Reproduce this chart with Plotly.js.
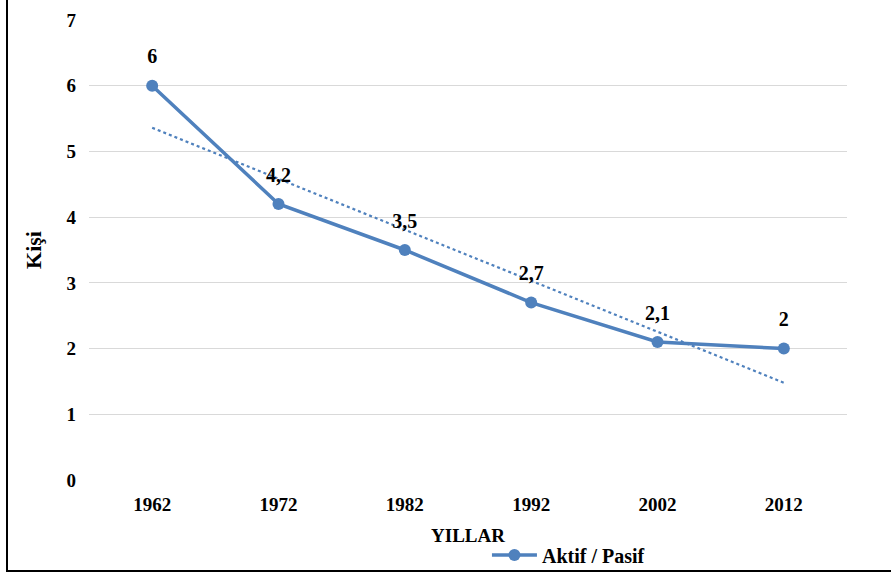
<!DOCTYPE html>
<html>
<head>
<meta charset="utf-8">
<script src="https://cdn.plot.ly/plotly-3.0.1.min.js"></script>
<style>
html,body{margin:0;padding:0;background:#fff;}
#wrap{position:relative;width:891px;height:573px;overflow:hidden;}
#chart{width:891px;height:573px;}
#bl{position:absolute;left:6px;top:0;width:0;height:572px;border-left:2px solid #000;pointer-events:none;}
#bb{position:absolute;left:6px;top:570px;width:885px;height:0;border-top:2px solid #000;pointer-events:none;}
</style>
</head>
<body>
<div id="wrap"><div id="chart"></div><div id="bl"></div><div id="bb"></div></div>
<script>
const years = ['1962','1972','1982','1992','2002','2012'];
const ratio = [6, 4.2, 3.5, 2.7, 2.1, 2];
const labels = ['6','4,2','3,5','2,7','2,1','2'];
const trendYears = ['1962','2012'];
const trendValues = [5.36, 1.48];
const yTicks = [0,1,2,3,4,5,6,7];

const blue = '#4f81bd';
const fam = 'Liberation Serif, Times New Roman, serif';
const fnt = {family:fam, size:19, color:'#000', weight:'bold'};

const traces = [
  {x: trendYears, y: trendValues, mode:'lines', line:{color:blue, width:2.2, dash:'dot'}, showlegend:false, hoverinfo:'skip'},
  {x: years, y: ratio, mode:'lines+markers', name:'Aktif / Pasif', line:{color:blue, width:3.5}, marker:{color:blue, size:12}},
  {x: years, y: ratio, mode:'markers+text', text: labels, textposition:'top center', showlegend:false,
   marker:{size:26, color:'rgba(0,0,0,0)'}, textfont:{family:fam, size:20, color:'#000', weight:'bold'}, hoverinfo:'skip'}
];

const layout = {
  width:891, height:573,
  margin:{l:89, r:44, t:20, b:93, autoexpand:false},
  paper_bgcolor:'#fff', plot_bgcolor:'#fff',
  font: fnt,
  xaxis:{type:'category', categoryorder:'array', categoryarray: years, range:[-0.5,5.5], automargin:false, showgrid:false, showline:false, zeroline:false, ticks:'', ticklabelstandoff:11, tickfont:fnt,
    title:{text:'YILLAR', font:fnt, standoff:14}},
  yaxis:{range:[0,7], tickvals:yTicks, automargin:false, showgrid:true, gridcolor:'#d9d9d9', gridwidth:1, zeroline:false, showline:false, ticks:'', ticklabelstandoff:12, tickfont:fnt,
    title:{text:'Kişi', font:{family:fam, size:22, color:'#000', weight:'bold'}, standoff:18}},
  showlegend:true,
  legend:{orientation:'h', x:0.525, xanchor:'left', y:-0.163, yanchor:'middle', itemwidth:45, font:{family:fam, size:20, color:'#000', weight:'bold'}, bgcolor:'rgba(0,0,0,0)'}
};

Plotly.newPlot('chart', traces, layout, {staticPlot:true});
</script>
</body>
</html>
